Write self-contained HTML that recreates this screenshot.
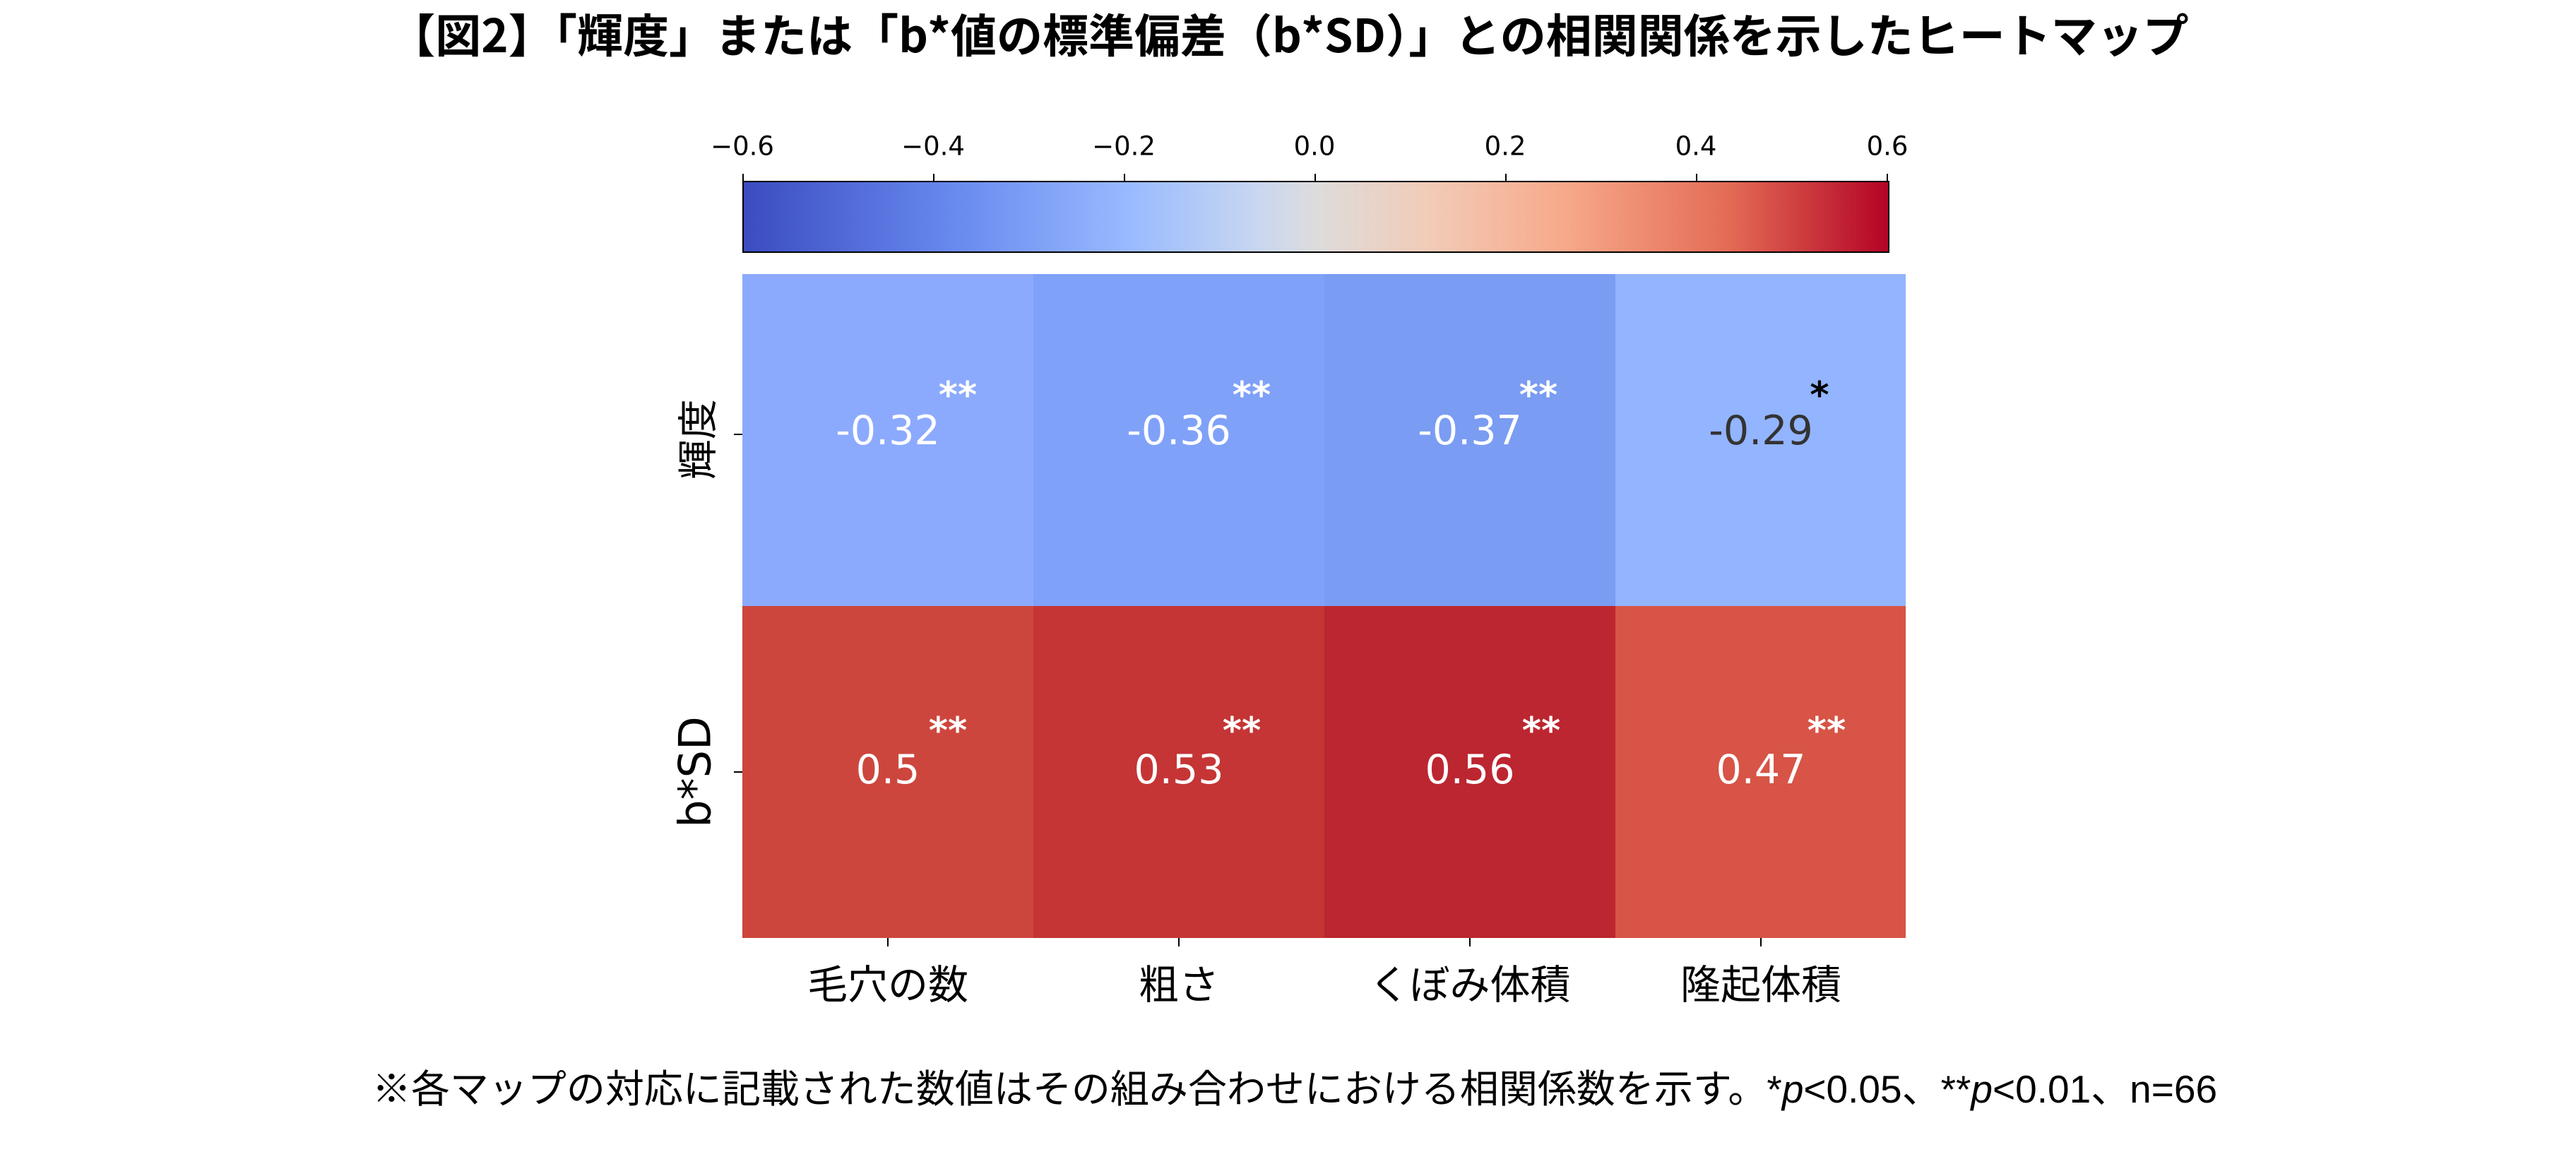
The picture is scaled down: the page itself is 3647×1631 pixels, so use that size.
<!DOCTYPE html>
<html><head><meta charset="utf-8"><style>
body{margin:0;width:3647px;height:1631px;background:#fff;position:relative;overflow:hidden;font-family:"Liberation Sans","Noto Sans CJK JP",sans-serif;}
.a{position:absolute;}
.t{position:absolute;white-space:nowrap;transform:translate(-50%,-50%);}
.cell{position:absolute;width:412px;height:470px;}
.v{position:absolute;font-size:57px;transform:translate(-50%,-50%);color:#fff;white-space:nowrap;font-family:"DejaVu Sans",sans-serif;}
.s{position:absolute;font-size:52px;font-weight:bold;color:#fff;transform:translate(-50%,-50%);font-family:"DejaVu Sans",sans-serif;}
.ct{position:absolute;font-size:37px;transform:translate(-50%,-50%);font-family:"DejaVu Sans",sans-serif;}
.xl{font-size:57px;}
</style></head><body>
<div class="t" style="left:1825px;top:46px;font-size:65px;font-weight:bold;font-family:'Noto Sans CJK JP',sans-serif;">【図2】「輝度」または「b*値の標準偏差（b*SD）」との相関関係を示したヒートマップ</div>

<div class="a" style="left:1051px;top:256px;width:1620px;height:98px;border:2px solid #000;background:linear-gradient(to right,#3b4cc0 0%,#6788ee 18%,#9abbff 34%,#c9d7f0 45%,#dddcdc 50%,#f2cbb7 60%,#f7a889 72%,#e36c55 86%,#b40426 100%);"></div>
<div class="a" style="left:1051px;top:246px;width:2px;height:10px;background:#000"></div>
<div class="a" style="left:1321px;top:246px;width:2px;height:10px;background:#000"></div>
<div class="a" style="left:1591px;top:246px;width:2px;height:10px;background:#000"></div>
<div class="a" style="left:1861px;top:246px;width:2px;height:10px;background:#000"></div>
<div class="a" style="left:2131px;top:246px;width:2px;height:10px;background:#000"></div>
<div class="a" style="left:2401px;top:246px;width:2px;height:10px;background:#000"></div>
<div class="a" style="left:2671px;top:246px;width:2px;height:10px;background:#000"></div>
<div class="ct" style="left:1051px;top:207px">−0.6</div>
<div class="ct" style="left:1321px;top:207px">−0.4</div>
<div class="ct" style="left:1591px;top:207px">−0.2</div>
<div class="ct" style="left:1861px;top:207px">0.0</div>
<div class="ct" style="left:2131px;top:207px">0.2</div>
<div class="ct" style="left:2401px;top:207px">0.4</div>
<div class="ct" style="left:2672px;top:207px">0.6</div>

<div class="cell" style="left:1051px;top:388px;background:#8caafd"></div>
<div class="cell" style="left:1463px;top:388px;background:#7fa1f8"></div>
<div class="cell" style="left:1875px;top:388px;background:#7a9cf2"></div>
<div class="cell" style="left:2287px;top:388px;width:411px;background:#93b4fe"></div>
<div class="cell" style="left:1051px;top:858px;background:#cd463d"></div>
<div class="cell" style="left:1463px;top:858px;background:#c53535"></div>
<div class="cell" style="left:1875px;top:858px;background:#bc2630"></div>
<div class="cell" style="left:2287px;top:858px;width:411px;background:#d75446"></div>

<div class="v" style="left:1257px;top:610px">-0.32</div><div class="s" style="left:1356px;top:560px">**</div>
<div class="v" style="left:1669px;top:610px">-0.36</div><div class="s" style="left:1772px;top:560px">**</div>
<div class="v" style="left:2081px;top:610px">-0.37</div><div class="s" style="left:2178px;top:560px">**</div>
<div class="v" style="left:2493px;top:610px;color:#333">-0.29</div><div class="s" style="left:2576px;top:560px;color:#000">*</div>
<div class="v" style="left:1257px;top:1090px">0.5</div><div class="s" style="left:1342px;top:1035px">**</div>
<div class="v" style="left:1669px;top:1090px">0.53</div><div class="s" style="left:1758px;top:1035px">**</div>
<div class="v" style="left:2081px;top:1090px">0.56</div><div class="s" style="left:2182px;top:1035px">**</div>
<div class="v" style="left:2493px;top:1090px">0.47</div><div class="s" style="left:2586px;top:1035px">**</div>

<div class="a" style="left:1039px;top:614px;width:12px;height:2px;background:#000"></div>
<div class="a" style="left:1039px;top:1092px;width:12px;height:2px;background:#000"></div>
<div class="a" style="left:1256px;top:1328px;width:2px;height:12px;background:#000"></div>
<div class="a" style="left:1668px;top:1328px;width:2px;height:12px;background:#000"></div>
<div class="a" style="left:2080px;top:1328px;width:2px;height:12px;background:#000"></div>
<div class="a" style="left:2492px;top:1328px;width:2px;height:12px;background:#000"></div>

<div class="t" style="left:984px;top:622px;font-size:57px;transform:translate(-50%,-50%) rotate(-90deg)">輝度</div>
<div class="t" style="left:984px;top:1093px;font-size:62px;transform:translate(-50%,-50%) rotate(-90deg);font-family:'DejaVu Sans',sans-serif">b*SD</div>

<div class="t xl" style="left:1257px;top:1390px">毛穴の数</div>
<div class="t xl" style="left:1669px;top:1390px">粗さ</div>
<div class="t xl" style="left:2081px;top:1390px">くぼみ体積</div>
<div class="t xl" style="left:2493px;top:1390px">隆起体積</div>

<div class="t" style="left:1833px;top:1537px;font-size:55px">※各マップの対応に記載された数値はその組み合わせにおける相関係数を示す。*<i>p</i>&lt;0.05、**<i>p</i>&lt;0.01、n=66</div>
</body></html>
